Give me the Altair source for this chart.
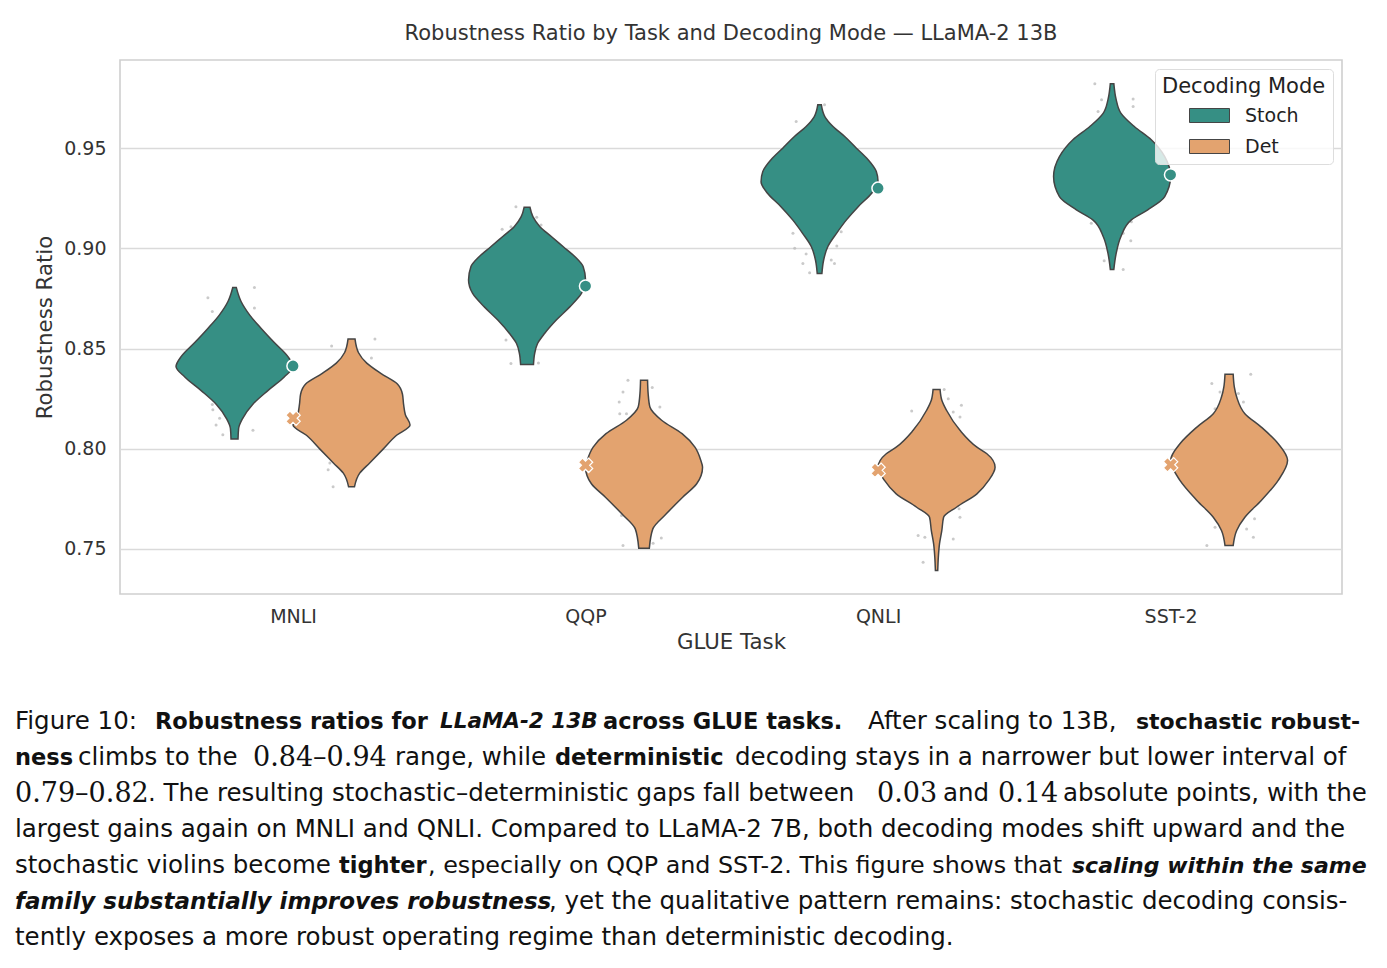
import altair as alt
import pandas as pd

# ---------------- data ----------------
tasks = ["MNLI", "QQP", "QNLI", "SST-2"]
modes = ["Stoch", "Det"]
mode_colors = ["#368f84", "#e3a36f"]

# violin outlines: robustness value (bottom -> top) and relative half-width (1 = widest)
mnli_stoch_val = [0.8049, 0.8101, 0.8152, 0.8221, 0.8290, 0.8358, 0.8410, 0.8461, 0.8530, 0.8599, 0.8667, 0.8736, 0.8805]
mnli_stoch_wid = [0.06, 0.07, 0.14, 0.31, 0.57, 0.85, 1.00, 0.91, 0.68, 0.46, 0.26, 0.11, 0.03]
mnli_det_val = [0.7810, 0.7878, 0.7929, 0.7998, 0.8067, 0.8118, 0.8170, 0.8221, 0.8273, 0.8324, 0.8376, 0.8427, 0.8479, 0.8547]
mnli_det_wid = [0.05, 0.14, 0.31, 0.54, 0.77, 1.00, 0.92, 0.89, 0.87, 0.78, 0.50, 0.26, 0.12, 0.06]
qqp_stoch_val = [0.8420, 0.8475, 0.8525, 0.8575, 0.8642, 0.8708, 0.8775, 0.8842, 0.8908, 0.8958, 0.9008, 0.9058, 0.9108, 0.9158, 0.9205]
qqp_stoch_wid = [0.11, 0.13, 0.18, 0.30, 0.50, 0.73, 0.93, 1.00, 0.96, 0.82, 0.62, 0.42, 0.22, 0.10, 0.05]
qqp_det_val = [0.7503, 0.7600, 0.7675, 0.7758, 0.7825, 0.7908, 0.7942, 0.8008, 0.8075, 0.8142, 0.8208, 0.8275, 0.8342]
qqp_det_wid = [0.09, 0.15, 0.38, 0.66, 0.90, 1.00, 0.97, 0.87, 0.65, 0.30, 0.10, 0.07, 0.06]
qnli_stoch_val = [0.8875, 0.8942, 0.9008, 0.9075, 0.9142, 0.9208, 0.9275, 0.9333, 0.9383, 0.9442, 0.9500, 0.9558, 0.9608, 0.9658, 0.9717]
qnli_stoch_wid = [0.04, 0.07, 0.14, 0.29, 0.46, 0.66, 0.89, 1.00, 0.97, 0.83, 0.63, 0.43, 0.23, 0.09, 0.03]
qnli_det_val = [0.7392, 0.7458, 0.7525, 0.7592, 0.7658, 0.7708, 0.7775, 0.7842, 0.7908, 0.7975, 0.8008, 0.8092, 0.8192, 0.8242, 0.8295]
qnli_det_wid = [0.02, 0.03, 0.05, 0.09, 0.12, 0.34, 0.69, 0.89, 1.00, 0.86, 0.69, 0.40, 0.17, 0.09, 0.06]
sst2_stoch_val = [0.8895, 0.8975, 0.9058, 0.9142, 0.9192, 0.9258, 0.9358, 0.9458, 0.9542, 0.9608, 0.9675, 0.9742, 0.9822]
sst2_stoch_wid = [0.03, 0.07, 0.15, 0.33, 0.61, 0.90, 1.00, 0.90, 0.67, 0.38, 0.15, 0.07, 0.03]
sst2_det_val = [0.7517, 0.7592, 0.7658, 0.7742, 0.7842, 0.7942, 0.8025, 0.8108, 0.8175, 0.8258, 0.8308, 0.8372]
sst2_det_wid = [0.07, 0.13, 0.27, 0.55, 0.84, 1.00, 0.84, 0.55, 0.27, 0.13, 0.09, 0.07]

# mean markers
stoch_means = [0.8413, 0.8812, 0.9300, 0.9367]
det_means = [0.8152, 0.7917, 0.7892, 0.7920]

# jittered raw runs: offset from violin centre (category units) and value
mnli_stoch_pdx = [-0.091, 0.068, -0.076, 0.068, -0.076, -0.074, -0.051, -0.063, -0.040, 0.063]
mnli_stoch_pv = [0.8753, 0.8805, 0.8685, 0.8702, 0.8221, 0.8195, 0.8152, 0.8118, 0.8070, 0.8092]
mnli_det_pdx = [-0.068, 0.080, 0.068, -0.080, -0.063, -0.074]
mnli_det_pv = [0.8513, 0.8547, 0.8453, 0.7895, 0.7810, 0.7929]
qqp_stoch_pdx = [-0.038, 0.033, -0.085, -0.055, -0.072, -0.089, 0.048, 0.082, -0.072, -0.055, 0.039]
qqp_stoch_pv = [0.9208, 0.9155, 0.9095, 0.9108, 0.9067, 0.9033, 0.9117, 0.9050, 0.8542, 0.8425, 0.8428]
qqp_det_pdx = [-0.055, -0.072, -0.085, -0.083, -0.060, 0.028, 0.054, -0.077, -0.072, 0.031, 0.059]
qqp_det_pv = [0.8342, 0.8283, 0.8233, 0.8175, 0.8175, 0.8305, 0.8208, 0.7667, 0.7517, 0.7528, 0.7555]
qnli_stoch_pdx = [-0.080, 0.017, -0.040, -0.063, 0.040, 0.051, -0.091, -0.085, -0.046, -0.057, -0.034, 0.040, 0.051, 0.059, 0.074]
qnli_stoch_pv = [0.9633, 0.9717, 0.9608, 0.9558, 0.9608, 0.9567, 0.9075, 0.9000, 0.8972, 0.8925, 0.8878, 0.8942, 0.8925, 0.9012, 0.9083]
qnli_det_pdx = [-0.085, 0.026, 0.040, 0.057, 0.085, 0.080, -0.046, 0.080, 0.077, -0.063, -0.040, 0.057, -0.046]
qnli_det_pv = [0.8188, 0.8295, 0.8250, 0.8183, 0.8217, 0.8158, 0.8142, 0.7658, 0.7700, 0.7567, 0.7558, 0.7550, 0.7433]
sst2_stoch_pdx = [-0.059, -0.036, 0.072, -0.048, 0.072, -0.071, 0.038, 0.064, -0.027, 0.038, 0.066]
sst2_stoch_pv = [0.9822, 0.9742, 0.9745, 0.9683, 0.9708, 0.9125, 0.9075, 0.9038, 0.8938, 0.8895, 0.9133]
sst2_det_pdx = [-0.059, 0.074, -0.031, 0.032, 0.049, -0.048, 0.087, -0.048, 0.060, -0.076, 0.083]
sst2_det_pv = [0.8325, 0.8372, 0.8283, 0.8275, 0.8233, 0.8200, 0.7650, 0.7608, 0.7600, 0.7517, 0.7558]

violin_data = {
    ("MNLI", "Stoch"): (mnli_stoch_val, mnli_stoch_wid, mnli_stoch_pdx, mnli_stoch_pv),
    ("MNLI", "Det"): (mnli_det_val, mnli_det_wid, mnli_det_pdx, mnli_det_pv),
    ("QQP", "Stoch"): (qqp_stoch_val, qqp_stoch_wid, qqp_stoch_pdx, qqp_stoch_pv),
    ("QQP", "Det"): (qqp_det_val, qqp_det_wid, qqp_det_pdx, qqp_det_pv),
    ("QNLI", "Stoch"): (qnli_stoch_val, qnli_stoch_wid, qnli_stoch_pdx, qnli_stoch_pv),
    ("QNLI", "Det"): (qnli_det_val, qnli_det_wid, qnli_det_pdx, qnli_det_pv),
    ("SST-2", "Stoch"): (sst2_stoch_val, sst2_stoch_wid, sst2_stoch_pdx, sst2_stoch_pv),
    ("SST-2", "Det"): (sst2_det_val, sst2_det_wid, sst2_det_pdx, sst2_det_pv),
}

# ---------------- tables ----------------
vrows, prows = [], []
for (task, mode), (vals, wids, pdx, pv) in violin_data.items():
    pos = tasks.index(task)
    side = -1 if mode == "Stoch" else 1
    for v, w in zip(vals, wids):
        vrows.append(dict(task=task, mode=mode, grp=task + mode, pos=pos, side=side, value=v, w=w))
    for dx, v in zip(pdx, pv):
        prows.append(dict(task=task, mode=mode, pos=pos, side=side, dx=dx, value=v))
vdf = pd.DataFrame(vrows)
pdf = pd.DataFrame(prows)
mdf_s = pd.DataFrame(dict(pos=list(range(len(tasks))), value=stoch_means))
mdf_d = pd.DataFrame(dict(pos=list(range(len(tasks))), value=det_means))

FONT = "DejaVu Sans"
TXT = "#333333"
xscale = alt.Scale(domain=[-0.5915, 3.586], nice=False, zero=False)
yscale = alt.Scale(domain=[0.7275, 0.994], nice=False, zero=False)
xaxis = alt.Axis(values=[0, 1, 2, 3], labelExpr="['MNLI','QQP','QNLI','SST-2'][datum.value]",
                 grid=False, ticks=False, domain=False, labelFontSize=19, labelColor=TXT,
                 labelPadding=13, titleFontSize=21.3, titleColor=TXT, titleFontWeight="normal",
                 titlePadding=5, labelFlush=False, labelOverlap=False)
yaxis = alt.Axis(values=[0.75, 0.80, 0.85, 0.90, 0.95], format=".2f", grid=True,
                 gridColor="#dadada", gridWidth=1.6, ticks=False, domain=False,
                 labelFontSize=19, labelColor=TXT, labelPadding=14, titleFontSize=21.3,
                 titleColor=TXT, titleFontWeight="normal", titlePadding=8)

def X(field):
    return alt.X(field, type="quantitative", scale=xscale, axis=xaxis, title="GLUE Task")

def Y(field):
    return alt.Y(field, type="quantitative", scale=yscale, axis=yaxis, title="Robustness Ratio")

dots = alt.Chart(pdf).transform_calculate(
    xp="datum.pos + datum.side * 0.2 + datum.dx"
).mark_circle(size=9, color="#bdbdbd", opacity=0.8).encode(x=X("xp"), y=Y("value"))

violins = alt.Chart(vdf).transform_calculate(
    xl="datum.pos + datum.side * 0.2 - datum.w * 0.2",
    xr="datum.pos + datum.side * 0.2 + datum.w * 0.2",
).mark_area(orient="horizontal", interpolate="monotone", stroke="#444444",
            strokeWidth=1.5, opacity=1).encode(
    y=Y("value"),
    x=X("xl"),
    x2="xr:Q",
    detail="grp:N",
    color=alt.Color("mode:N", scale=alt.Scale(domain=modes, range=mode_colors),
                    legend=alt.Legend(
                        title="Decoding Mode", orient="top-right", offset=9,
                        titleFontSize=21, titleFontWeight="normal", titleColor="#222222",
                        titlePadding=8, labelFontSize=19, labelColor="#222222",
                        symbolType="M-2,-0.7H2V0.7H-2Z", symbolSize=400,
                        symbolStrokeColor="#454545", symbolStrokeWidth=1,
                        symbolOpacity=1, symbolOffset=37, labelOffset=25, rowPadding=10,
                        padding=7, fillColor="rgba(255,255,255,0.8)",
                        strokeColor="#dddddd", cornerRadius=4)),
)

stoch_pts = alt.Chart(mdf_s).mark_point(shape="circle", filled=True, size=150,
                                        color=mode_colors[0], stroke="white",
                                        strokeWidth=1.5, opacity=1).encode(x=X("pos"), y=Y("value"))
det_pts = alt.Chart(mdf_d).mark_point(shape="cross", angle=45, filled=True, size=210,
                                      color=mode_colors[1], stroke="white",
                                      strokeWidth=1.2, opacity=1).encode(x=X("pos"), y=Y("value"))

# ---------------- caption ----------------
def st(weight="normal", size=24.5, italic=False, font="DejaVu Sans"):
    d = dict(font=font, fontSize=size, fontWeight=weight)
    if italic:
        d["fontStyle"] = "italic"
    return d

REG = st()
BOLD = st("bold", 22.5)
MATH = st(size=27, font="DejaVu Serif")
caption = [
    ("Figure 10:", 15, 722, REG),
    ("Robustness ratios for", 155, 722, BOLD),
    ("LLaMA-2 13B", 440, 722, st("bold", 21.5, True)),
    ("across GLUE tasks.", 603, 722, BOLD),
    ("After scaling to 13B,", 868, 722, REG),
    ("stochastic robust-", 1136, 722, st("bold", 22)),
    ("ness", 15, 758, BOLD),
    ("climbs to the", 78, 758, REG),
    ("0.84\u20130.94", 253, 758, MATH),
    ("range, while", 395, 758, REG),
    ("deterministic", 555, 758, BOLD),
    ("decoding stays in a narrower but lower interval of", 735, 758, REG),
    ("0.79\u20130.82", 15, 794, MATH),
    (". The resulting stochastic\u2013deterministic gaps fall between", 148, 794, REG),
    ("0.03", 877, 794, MATH),
    ("and", 943, 794, REG),
    ("0.14", 998, 794, MATH),
    ("absolute points, with the", 1063, 794, REG),
    ("largest gains again on MNLI and QNLI. Compared to LLaMA-2 7B, both decoding modes shift upward and the", 15, 830, REG),
    ("stochastic violins become", 15, 866, REG),
    ("tighter", 339, 866, BOLD),
    (", especially on QQP and SST-2. This figure shows that", 428, 866, st(size=23.8)),
    ("scaling within the same", 1072, 866, st("bold", 22, True)),
    ("family substantially improves robustness", 15, 902, st("bold", 23, True)),
    (", yet the qualitative pattern remains: stochastic decoding consis-", 549, 902, REG),
    ("tently exposes a more robust operating regime than deterministic decoding.", 15, 938, REG),
]
PL, PT = 120, 60
cap_layers = []
for txt, cx, cy, sty in caption:
    cap_layers.append(
        alt.Chart(pd.DataFrame({"t": [txt]})).mark_text(
            align="left", baseline="middle", color="#111111", **sty
        ).encode(x=alt.value(cx - PL), y=alt.value(cy - PT), text="t:N")
    )

chart = alt.layer(dots, violins, stoch_pts, det_pts, *cap_layers).properties(
    width=1222, height=534,
    title=alt.TitleParams("Robustness Ratio by Task and Decoding Mode \u2014 LLaMA-2 13B",
                          fontSize=21, font=FONT, fontWeight="normal", color=TXT,
                          anchor="middle", offset=16),
    padding={"left": PL, "top": PT, "right": 45, "bottom": 374},
    autosize=alt.AutoSizeParams(type="none"),
    background="white",
).configure(font=FONT).configure_view(stroke="#cfcfcf", strokeWidth=1.6)

chart.save("out.html", embed_options={"renderer": "svg", "actions": False})
